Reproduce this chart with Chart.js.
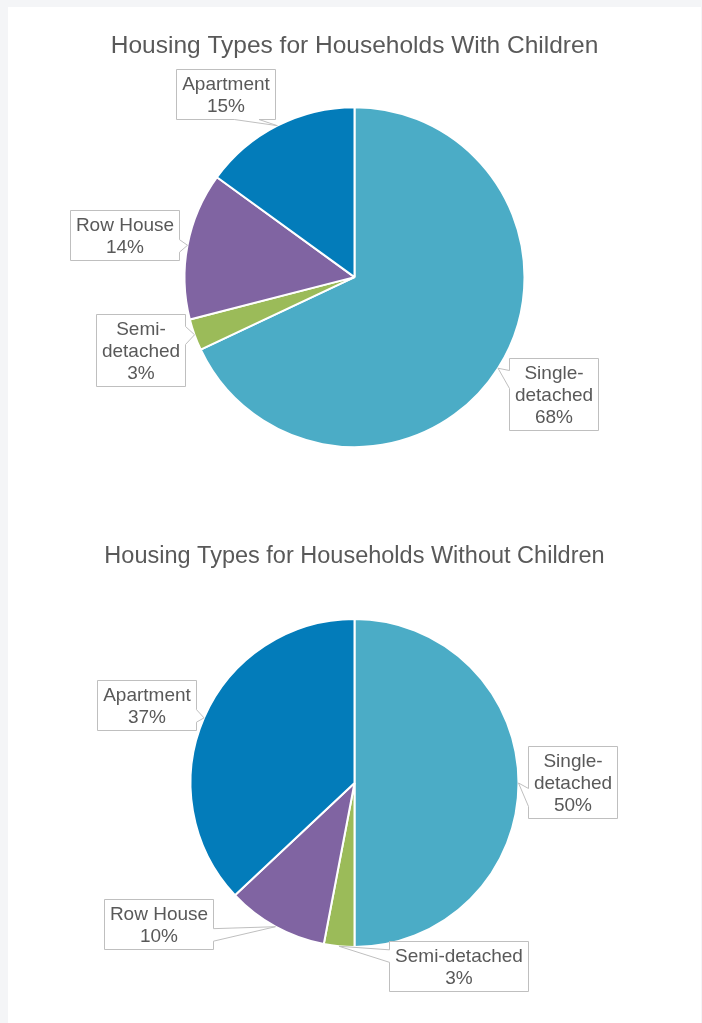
<!DOCTYPE html>
<html>
<head>
<meta charset="utf-8">
<script src="https://cdn.jsdelivr.net/npm/chart.js@4.4.0/dist/chart.umd.min.js"></script>
<style>
  html, body { margin: 0; padding: 0; background: #f4f5f7; }
  body { width: 702px; height: 1023px; overflow: hidden; position: relative; }
  .card { position: absolute; left: 8px; top: 7px; width: 693px; height: 1016px; background: #fff; }
  .slot { position: absolute; left: 0; width: 693px; }
</style>
</head>
<body>
<div class="card">
  <div class="slot" style="top:0;height:505px"><canvas id="withKids"></canvas></div>
  <div class="slot" style="top:505px;height:511px"><canvas id="withoutKids"></canvas></div>
</div>
<script>
// housing categories, same order in both pies (clockwise from 12 o'clock)
const housingTypes = ['Single-detached', 'Semi-detached', 'Row House', 'Apartment'];
const withChildren = [68, 3, 14, 15];
const withoutChildren = [50, 3, 10, 37];

const sliceColors = ['#4BACC6', '#9BBB59', '#8064A2', '#037CBA'];
const FONT = '"Liberation Sans", Arial, sans-serif';
const TEXT = '#595959';

// callout box centres, relative to the pie centre
const kidsBoxes = [[198.5, 116.5], [-214, 72.5], [-230.5, -42], [-129.5, -183]];
const noKidsBoxes = [[218, -1], [104, 182.5], [-196.5, 140.5], [-208.5, -78]];
// break the name after its hyphen?
const kidsWrap = [true, true, false, false];
const noKidsWrap = [true, false, false, false];

// rectangular callout with a wedge pointing at the slice (office-style wedgeRectCallout)
function calloutPath(ctx, x0, y0, w, h, tx, ty) {
  const dxPos = tx - (x0 + w / 2), dyPos = ty - (y0 + h / 2);
  const horiz = Math.abs(dxPos) * h > Math.abs(dyPos) * w;
  const xa = w * (dxPos > 0 ? 7 : 2) / 12, xb = w * (dxPos > 0 ? 10 : 5) / 12;
  const ya = h * (dyPos > 0 ? 7 : 2) / 12, yb = h * (dyPos > 0 ? 10 : 5) / 12;
  ctx.beginPath();
  ctx.moveTo(x0, y0);
  if (!horiz && dyPos < 0) { ctx.lineTo(x0 + xa, y0); ctx.lineTo(tx, ty); ctx.lineTo(x0 + xb, y0); }
  ctx.lineTo(x0 + w, y0);
  if (horiz && dxPos > 0) { ctx.lineTo(x0 + w, y0 + ya); ctx.lineTo(tx, ty); ctx.lineTo(x0 + w, y0 + yb); }
  ctx.lineTo(x0 + w, y0 + h);
  if (!horiz && dyPos >= 0) { ctx.lineTo(x0 + xb, y0 + h); ctx.lineTo(tx, ty); ctx.lineTo(x0 + xa, y0 + h); }
  ctx.lineTo(x0, y0 + h);
  if (horiz && dxPos <= 0) { ctx.lineTo(x0, y0 + yb); ctx.lineTo(tx, ty); ctx.lineTo(x0, y0 + ya); }
  ctx.closePath();
}

const calloutPlugin = {
  id: 'callouts',
  afterDatasetsDraw(chart, args, opts) {
    const ctx = chart.ctx;
    const values = chart.data.datasets[0].data;
    ctx.save();
    ctx.font = '19px ' + FONT;
    chart.getDatasetMeta(0).data.forEach((arc, i) => {
      const p = arc.getProps(['x', 'y', 'startAngle', 'endAngle', 'outerRadius'], true);
      const mid = (p.startAngle + p.endAngle) / 2;
      const tx = p.x + Math.cos(mid) * p.outerRadius;
      const ty = p.y + Math.sin(mid) * p.outerRadius;

      const name = chart.data.labels[i];
      const lines = opts.wrap[i] ? name.replace('-', '-\n').split('\n') : [name];
      lines.push(values[i] + '%');

      const w = Math.round(Math.max(...lines.map(l => ctx.measureText(l).width)) + 11);
      const h = lines.length * 22 + 6;
      const cx = p.x + opts.boxes[i][0], cy = p.y + opts.boxes[i][1];
      const x0 = Math.round(cx - w / 2) + 0.5, y0 = Math.round(cy - h / 2) + 0.5;

      calloutPath(ctx, x0, y0, w, h, tx, ty);
      ctx.fillStyle = '#fff';
      ctx.fill();
      ctx.strokeStyle = '#bfbfbf';
      ctx.lineWidth = 1;
      ctx.stroke();

      ctx.fillStyle = TEXT;
      ctx.textAlign = 'center';
      ctx.textBaseline = 'middle';
      lines.forEach((l, k) => {
        ctx.fillText(l, x0 + w / 2, y0 + h / 2 + (k - (lines.length - 1) / 2) * 22 + 1);
      });
    });
    ctx.restore();
  }
};

function makePie(id, title, values, radius, pad, boxes, wrap) {
  return new Chart(document.getElementById(id), {
    type: 'pie',
    data: {
      labels: housingTypes,
      datasets: [{
        data: values,
        backgroundColor: sliceColors,
        borderColor: '#fff',
        borderWidth: 2,
        radius: radius
      }]
    },
    options: {
      responsive: true,
      maintainAspectRatio: false,
      animation: false,
      layout: { padding: { top: 0, bottom: pad.bottom, left: 0, right: 0 } },
      plugins: {
        legend: { display: false },
        tooltip: { enabled: false },
        title: {
          display: true,
          text: title,
          color: TEXT,
          font: { family: FONT, size: pad.titleSize, weight: 'normal', lineHeight: 1.2 },
          padding: { top: pad.titleTop, bottom: pad.titleBottom }
        },
        callouts: { boxes: boxes, wrap: wrap }
      }
    },
    plugins: [calloutPlugin]
  });
}

makePie('withKids', 'Housing Types for Households With Children', withChildren, 170,
  { titleSize: 24.5, titleTop: 24.8, titleBottom: 46.1, bottom: 65 }, kidsBoxes, kidsWrap);
makePie('withoutKids', 'Housing Types for Households Without Children', withoutChildren, 164,
  { titleSize: 23.5, titleTop: 30.9, titleBottom: 47.9, bottom: 76 }, noKidsBoxes, noKidsWrap);
</script>
</body>
</html>
